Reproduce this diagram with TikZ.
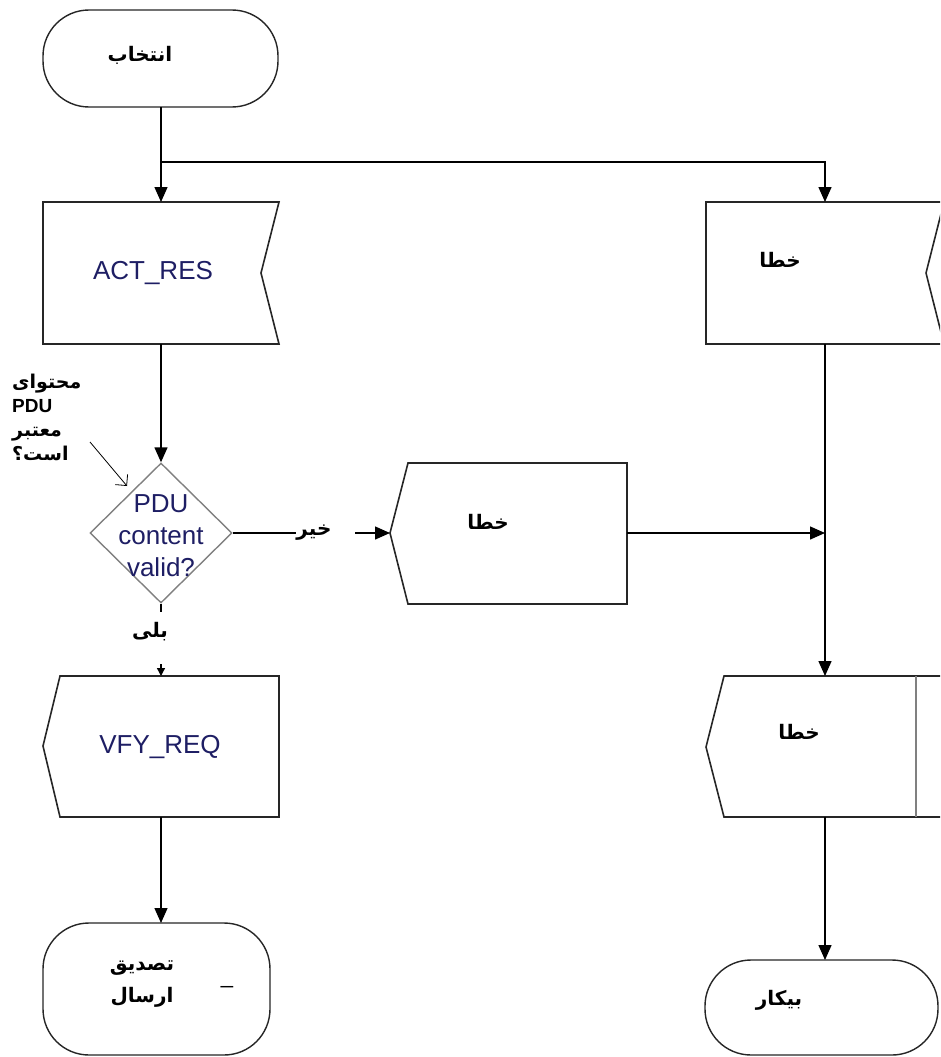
\documentclass[tikz,border=0pt]{standalone}
\usepackage{fontspec}
\setmainfont{Liberation Sans}
\newfontfamily\arabicfont[Script=Arabic]{DejaVu Sans}
\TeXXeTstate=1
\usetikzlibrary{arrows.meta,shapes.geometric}
\definecolor{navy}{RGB}{30,30,100}
\begin{document}
\begin{tikzpicture}[x=1pt,y=-1pt,
  boxline/.style={draw=black!85, line width=1.6pt, fill=white, line join=miter},
  termbox/.style={draw=black!85, line width=1.4pt, fill=white, rounded corners=46pt},
  link/.style={line width=1.4pt},
  conn/.style={line width=1.4pt, -{Triangle[length=15pt,width=13pt]}},
  smallconn/.style={line width=1.4pt, -{Triangle[length=8pt,width=8pt]}},
  artext/.style={font=\arabicfont\bfseries\fontsize{20}{26}\selectfont, inner sep=0pt},
  anntext/.style={font=\arabicfont\bfseries\fontsize{19}{24}\selectfont, inner sep=0pt},
  entext/.style={font=\fontsize{26}{32}\selectfont, text=navy, inner sep=0pt},
]
\useasboundingbox (0,0) rectangle (940,1057);
\clip (0,0) rectangle (940,1057);

% ---- shapes ----
\draw[termbox] (43,10) rectangle (278,107);
\draw[termbox] (43,923) rectangle (270,1055);
\draw[termbox] (705,960) rectangle (938,1055);

\draw[boxline] (43,202) -- (279,202) -- (261,273) -- (279,344) -- (43,344) -- cycle;
\draw[boxline] (706,202) -- (944,202) -- (926,273) -- (944,344) -- (706,344) -- cycle;
\draw[boxline] (408,463) -- (627,463) -- (627,604) -- (408,604) -- (390,533) -- cycle;
\draw[boxline] (60,676) -- (279,676) -- (279,817) -- (60,817) -- (43,746) -- cycle;
\draw[boxline] (724,676) -- (950,676) -- (950,817) -- (724,817) -- (706,747) -- cycle;
\draw[draw=black!50, line width=1.6pt] (916,676) -- (916,817);

\node[diamond, draw=black!50, line width=1.4pt, fill=white, minimum width=142pt, minimum height=140pt, inner sep=0pt] (dec) at (161,533) {};

% ---- texts ----
\node[artext] (startT) at (140,55) {\beginR انتخاب\endR};
\node[entext] (actT) at (153,273) {ACT\_RES};
\node[artext] (err1T) at (780,260) {\beginR خطا\endR};
\node[artext] (err2T) at (488,522) {\beginR خطا\endR};
\node[artext] (err3T) at (799,732) {\beginR خطا\endR};
\node[entext, align=center] (decT) at (161,536) {PDU\\content\\valid?};
\node[entext] (vfyT) at (160,747) {VFY\_REQ};
\node[artext, align=center] (endLT) at (142,984) {\beginR تصدیق\endR\\[6pt]\beginR ارسال\endR};
\node[anchor=base, font=\fontsize{22}{24}\selectfont, inner sep=0pt] (dash) at (227,983) {\_};
\node[artext] (endRT) at (779,1000) {\beginR بیکار\endR};
\node[artext] (noL) at (314,533) {\beginR خیر\endR};
\node[artext] (yesL) at (150,632) {\beginR بلی\endR};
\node[anntext, align=left, anchor=north west] (ann) at (12,374)
  {\beginR محتوای\endR\\{\normalfont\bfseries\fontsize{19}{24}\selectfont PDU}\\\beginR معتبر\endR\\\beginR است؟\endR};

% ---- connector points ----
\coordinate (startS) at (161,107);
\coordinate (split) at (161,162);
\coordinate (actTop) at (161,202);
\coordinate (actBot) at (161,344);
\coordinate (e1Top) at (825,202);
\coordinate (e1Bot) at (825,344);
\coordinate (noOut) at (355,533);
\coordinate (e2Tip) at (390,533);
\coordinate (e2R) at (627,533);
\coordinate (joinR) at (825,533);
\coordinate (e3Top) at (825,676);
\coordinate (e3Bot) at (825,817);
\coordinate (endRTop) at (825,960);
\coordinate (yesTop) at (161,612);
\coordinate (yesArr) at (161,664);
\coordinate (vfyTop) at (161,676);
\coordinate (vfyBot) at (161,817);
\coordinate (endLTop) at (161,923);
\coordinate (annA) at (90,442);
\coordinate (annB) at (127,486);

% ---- connectors ----
\draw[link] (startS) -- (split);
\draw[conn] (split) -- (actTop);
\draw[conn] (split) -| (e1Top);
\draw[conn] (actBot) -- (dec.north);
\draw[link] (dec.east) -- (noL.west);
\draw[conn] (noOut) -- (e2Tip);
\draw[conn] (e2R) -- (joinR);
\draw[conn] (e1Bot) -- (e3Top);
\draw[conn] (e3Bot) -- (endRTop);
\draw[link] (dec.south) -- (yesTop);
\draw[smallconn] (yesArr) -- (vfyTop);
\draw[conn] (vfyBot) -- (endLTop);
\draw[line width=0.8pt, -{Straight Barb[angle'=90,length=8pt]}] (annA) -- (annB);
\end{tikzpicture}
\end{document}
